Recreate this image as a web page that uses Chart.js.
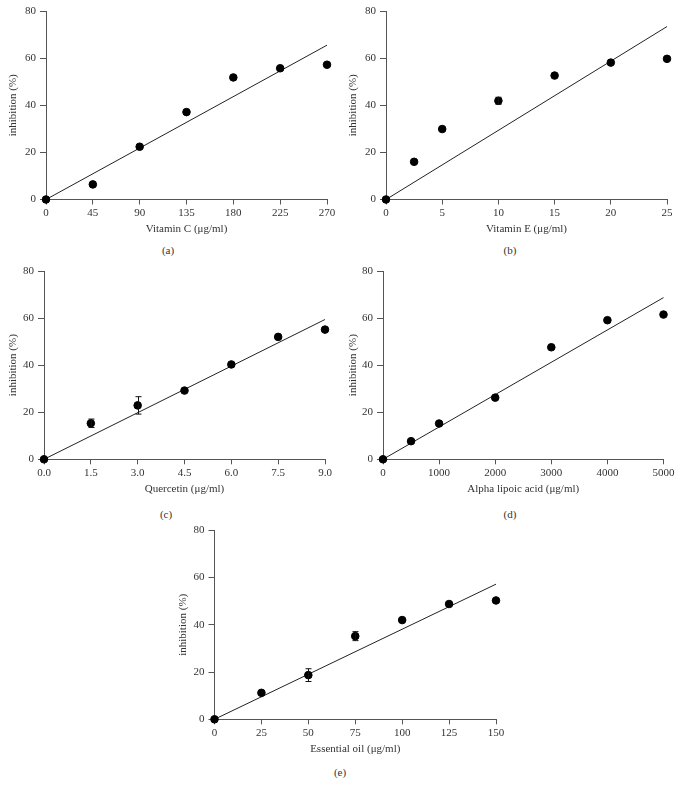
<!DOCTYPE html>
<html>
<head>
<meta charset="utf-8">
<script src="https://cdn.jsdelivr.net/npm/chart.js@4.4.1/dist/chart.umd.min.js"></script>
<style>
  body { margin: 0; background: #fff; }
  #page { position: relative; width: 681px; height: 793px; overflow: hidden; }
  canvas { position: absolute; }
  .cap { position: absolute; font: 11px "Liberation Serif", serif; color: #333; transform: translate(-50%, -50%); }
</style>
</head>
<body>
<div id="page"></div>
<script>
// inhibition values
const yTicks = [0, 20, 40, 60, 80];

const vitCDose = [0, 45, 90, 135, 180, 225, 270];
const vitCInhib = [0, 6.4, 22.4, 37.1, 51.8, 55.7, 57.2];
const vitCErr = [0, 0, 0, 0, 0, 0, 0];
const vitCFit = [0, 65.5];   // fitted line at first and last dose

const vitEDose = [0, 2.5, 5, 10, 15, 20, 25];
const vitEInhib = [0, 16.0, 29.9, 41.9, 52.6, 58.1, 59.7];
const vitEErr = [0, 0, 0, 1.5, 0, 0, 0];
const vitEFit = [0, 73.4];
const vitETicks = [0, 5, 10, 15, 20, 25];

const querDose = [0, 1.5, 3.0, 4.5, 6.0, 7.5, 9.0];
const querInhib = [0, 15.3, 22.9, 29.2, 40.3, 52.0, 55.1];
const querErr = [0, 1.8, 3.7, 0, 0, 0, 0];
const querFit = [0, 59.4];

const alaDose = [0, 500, 1000, 2000, 3000, 4000, 5000];
const alaInhib = [0, 7.7, 15.2, 26.2, 47.6, 59.1, 61.5];
const alaErr = [0, 0, 0, 0, 0, 0, 0];
const alaFit = [0, 68.7];
const alaTicks = [0, 1000, 2000, 3000, 4000, 5000];

const oilDose = [0, 25, 50, 75, 100, 125, 150];
const oilInhib = [0, 11.2, 18.7, 35.2, 42.0, 48.8, 50.3];
const oilErr = [0, 0, 2.7, 1.9, 0, 0, 0];
const oilFit = [0, 57.2];

const font = { family: '"Liberation Serif", serif', size: 11 };
const textColor = '#333';
const axisColor = '#555';

// draws the vertical error bars with caps
const errorBars = {
    id: 'errorBars',
    afterDatasetsDraw(chart) {
        const errs = chart.options.plugins.errorBars.errs;
        const ds = chart.data.datasets[0];
        const xs = chart.scales.x, ys = chart.scales.y;
        const ctx = chart.ctx;
        ctx.save();
        ctx.strokeStyle = '#111';
        ctx.lineWidth = 1;
        ds.data.forEach((p, i) => {
            const e = errs[i];
            if (!e) return;
            const px = Math.round(xs.getPixelForValue(p.x)) + 0.5;
            const top = ys.getPixelForValue(p.y + e);
            const bot = ys.getPixelForValue(p.y - e);
            ctx.beginPath();
            ctx.moveTo(px, top); ctx.lineTo(px, bot);
            ctx.moveTo(px - 3, top); ctx.lineTo(px + 3, top);
            ctx.moveTo(px - 3, bot); ctx.lineTo(px + 3, bot);
            ctx.stroke();
        });
        ctx.restore();
    }
};

function makePanel(box, area, dose, inhib, errs, fit, xTicks, xTitle, caption, digits) {
    const canvas = document.createElement('canvas');
    canvas.width = box.w;
    canvas.height = box.h;
    canvas.style.left = box.x + 'px';
    canvas.style.top = box.y + 'px';
    document.getElementById('page').appendChild(canvas);

    const yWidth = area.l - box.x;
    const xHeight = box.y + box.h - area.b;
    const xMax = dose[dose.length - 1];

    new Chart(canvas.getContext('2d'), {
        type: 'scatter',
        data: {
            datasets: [{
                data: dose.map((d, i) => ({ x: d, y: inhib[i] })),
                backgroundColor: '#000',
                borderColor: '#000',
                pointRadius: 3.8,
                clip: false
            }, {
                data: [{ x: 0, y: fit[0] }, { x: xMax, y: fit[1] }],
                showLine: true,
                borderColor: '#222',
                borderWidth: 1,
                pointRadius: 0,
                clip: false
            }]
        },
        options: {
            responsive: false,
            animation: false,
            events: [],
            layout: {
                padding: { top: area.t - box.y, right: box.x + box.w - area.r, left: 0, bottom: 0 }
            },
            plugins: {
                legend: { display: false },
                tooltip: { enabled: false },
                errorBars: { errs: errs }
            },
            scales: {
                x: {
                    type: 'linear',
                    min: 0,
                    max: xMax,
                    afterBuildTicks: s => { s.ticks = xTicks.map(v => ({ value: v })); },
                    afterFit: s => {
                        s.height = xHeight;
                        s.paddingLeft = s.paddingRight = s.paddingTop = s.paddingBottom = 0;
                    },
                    ticks: {
                        font: font,
                        color: textColor,
                        padding: 2,
                        maxRotation: 0,
                        autoSkip: false,
                        callback: v => v.toFixed(digits)
                    },
                    grid: { drawOnChartArea: false, tickLength: 5, color: axisColor },
                    border: { color: axisColor },
                    title: { display: true, text: xTitle, font: font, color: textColor, padding: { top: 0, bottom: 0 } }
                },
                y: {
                    min: 0,
                    max: 80,
                    afterBuildTicks: s => { s.ticks = yTicks.map(v => ({ value: v })); },
                    afterFit: s => {
                        s.width = yWidth;
                        s.paddingLeft = s.paddingRight = s.paddingTop = s.paddingBottom = 0;
                    },
                    ticks: { font: font, color: textColor, padding: 4 },
                    grid: { drawOnChartArea: false, tickLength: 6, color: axisColor },
                    border: { color: axisColor },
                    title: { display: true, text: 'inhibition (%)', font: font, color: textColor, padding: { top: 6.5, bottom: 0 } }
                }
            }
        },
        plugins: [errorBars]
    });

    const cap = document.createElement('div');
    cap.className = 'cap';
    cap.textContent = caption.text;
    cap.style.left = caption.x + 'px';
    cap.style.top = caption.y + 'px';
    document.getElementById('page').appendChild(cap);
}

makePanel({ x: 0, y: 0, w: 340, h: 236 }, { l: 46, t: 11, r: 327, b: 199.5 },
    vitCDose, vitCInhib, vitCErr, vitCFit, vitCDose, 'Vitamin C (μg/ml)', { text: '(a)', x: 168, y: 250 }, 0);
makePanel({ x: 340, y: 0, w: 341, h: 236 }, { l: 386, t: 11, r: 667, b: 199.5 },
    vitEDose, vitEInhib, vitEErr, vitEFit, vitETicks, 'Vitamin E (μg/ml)', { text: '(b)', x: 510, y: 250 }, 0);
makePanel({ x: 0, y: 260, w: 340, h: 236 }, { l: 44, t: 271, r: 325, b: 459.3 },
    querDose, querInhib, querErr, querFit, querDose, 'Quercetin (μg/ml)', { text: '(c)', x: 166, y: 514 }, 1);
makePanel({ x: 340, y: 260, w: 341, h: 236 }, { l: 383, t: 271, r: 663.5, b: 459.3 },
    alaDose, alaInhib, alaErr, alaFit, alaTicks, 'Alpha lipoic acid (μg/ml)', { text: '(d)', x: 510, y: 514 }, 0);
makePanel({ x: 170, y: 520, w: 340, h: 236 }, { l: 214.5, t: 530.3, r: 496, b: 719.3 },
    oilDose, oilInhib, oilErr, oilFit, oilDose, 'Essential oil (μg/ml)', { text: '(e)', x: 340, y: 772 }, 0);
</script>
</body>
</html>
